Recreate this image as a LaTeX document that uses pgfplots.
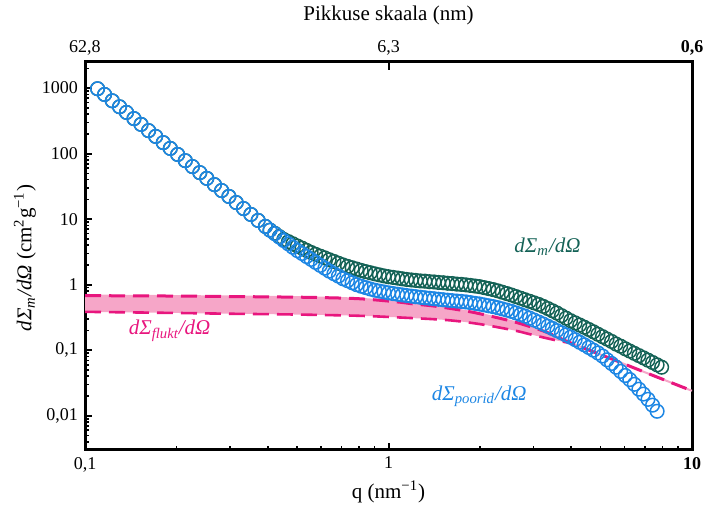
\documentclass[border=0pt]{standalone}
\usepackage{fontspec}
\setmainfont{Liberation Serif}
\usepackage{pgfplots}
\pgfplotsset{compat=1.18}
\usepgfplotslibrary{fillbetween}
\definecolor{cblue}{RGB}{28,134,228}
\definecolor{cgreen}{RGB}{20,98,86}
\definecolor{cpink}{RGB}{232,22,126}
\definecolor{cpinkfill}{RGB}{246,166,200}
\begin{document}
\begin{tikzpicture}
\begin{axis}[
 scale only axis, width=303.5pt, height=194pt,
 xmode=log, ymode=log,
 xmin=0.1, xmax=10, ymin=0.003, ymax=2500,
 axis line style={line width=1.5pt},
 tick align=inside,
 xtick pos=left, ytick pos=left,
 xtick={0.1,1,10}, xticklabels={{0,1},1,\textbf{10}},
 minor xtick={0.2,0.3,0.4,0.5,0.6,0.7,0.8,0.9,2,3,4,5,6,7,8,9},
 ytick={0.01,0.1,1,10,100,1000}, yticklabels={{0,01},{0,1},1,10,100,1000},
 minor ytick={0.003,0.004,0.005,0.006,0.007,0.008,0.009,0.02,0.03,0.04,0.05,0.06,0.07,0.08,0.09,0.2,0.3,0.4,0.5,0.6,0.7,0.8,0.9,2,3,4,5,6,7,8,9,20,30,40,50,60,70,80,90,200,300,400,500,600,700,800,900,2000},
 major tick length=3.5pt, minor tick length=2pt,
 every major tick/.style={line width=1pt, black},
 every minor tick/.style={line width=0.8pt, black},
 /pgf/number format/assume math mode=true,
 tick label style={font=\fontsize{9}{10}\selectfont},
 xlabel={q (nm\textsuperscript{−1})},
 xlabel style={at={(0.5,0)}, anchor=center, yshift=-21pt, font=\fontsize{10.5}{12}\selectfont},
 ylabel={{\itshape dΣ\textsubscript{m}/dΩ} (cm\textsuperscript{2}g\textsuperscript{−1})},
 ylabel style={at={(axis description cs:-0.099,0.495)}, anchor=center, font=\fontsize{10.5}{12}\selectfont},
 clip=true,
]
% fluctuation band
\addplot[name path=upshort, draw=none, smooth] coordinates {(0.1,0.68)(0.2,0.67)(0.35,0.655)(0.55,0.64)(0.8,0.61)(1.07,0.545)(1.2,0.51)(1.42,0.47)(1.75,0.405)(2.0,0.36)(2.6,0.27)(3.3,0.19)(4.0,0.128)};
\addplot[name path=lo, draw=none, smooth] coordinates {(0.1,0.385)(0.2,0.37)(0.3,0.36)(0.5,0.35)(0.8,0.335)(1.1,0.315)(1.56,0.288)(2.0,0.25)(2.6,0.20)(3.0,0.17)(3.6,0.14)(4.0,0.128)};
\addplot[cpinkfill] fill between[of=upshort and lo];
% m series
\addplot[only marks, mark=o, mark size=3.4pt, mark options={draw=cgreen, fill=white, line width=0.75pt}] coordinates {
(0.110,977)(0.116,798)(0.123,639)(0.130,518)(0.137,425)(0.145,342)(0.153,279)(0.162,224)(0.171,183)(0.181,147)(0.191,120)(0.202,97)(0.214,78)(0.226,63.4)(0.239,51.2)(0.252,41.9)(0.267,33.6)(0.282,27.3)(0.298,22.2)(0.315,17.9)(0.333,14.5)(0.352,11.8)(0.372,9.55)(0.393,7.74)
(0.407,6.81)(0.422,6.07)(0.437,5.41)(0.452,4.89)(0.468,4.53)(0.484,4.20)(0.501,3.89)(0.519,3.61)(0.537,3.34)(0.556,3.10)(0.575,2.90)(0.596,2.72)(0.617,2.56)(0.638,2.40)(0.661,2.26)(0.684,2.12)(0.708,2.00)(0.733,1.90)(0.759,1.81)(0.785,1.73)(0.813,1.65)(0.841,1.58)(0.871,1.52)(0.902,1.46)(0.933,1.41)(0.966,1.36)(1.000,1.32)(1.035,1.29)(1.072,1.26)(1.109,1.23)(1.148,1.20)(1.189,1.18)(1.230,1.16)(1.274,1.14)(1.318,1.13)(1.365,1.11)(1.413,1.10)(1.462,1.08)(1.514,1.07)(1.567,1.05)(1.622,1.04)(1.679,1.02)(1.738,1.01)(1.799,0.993)(1.862,0.973)(1.928,0.953)(1.995,0.933)(2.065,0.902)(2.138,0.871)(2.213,0.841)(2.291,0.805)(2.371,0.767)(2.455,0.731)(2.541,0.695)(2.630,0.658)(2.723,0.622)(2.818,0.589)(2.917,0.557)(3.020,0.527)(3.126,0.499)(3.236,0.466)(3.350,0.432)(3.467,0.400)(3.589,0.369)(3.715,0.337)(3.846,0.308)(3.981,0.282)(4.121,0.261)(4.266,0.242)(4.416,0.224)(4.571,0.207)(4.732,0.191)(4.898,0.175)(5.070,0.161)(5.248,0.148)(5.433,0.136)(5.623,0.124)(5.821,0.115)(6.026,0.105)(6.237,0.0971)(6.457,0.0895)(6.683,0.0827)(6.918,0.0764)(7.161,0.0705)(7.413,0.0649)(7.674,0.0597)(7.943,0.0550)};
% pore series
\addplot[only marks, mark=o, mark size=3.4pt, mark options={draw=cblue, fill=white, line width=0.75pt}] coordinates {
(0.110,977)(0.116,798)(0.123,639)(0.130,518)(0.137,425)(0.145,342)(0.153,279)(0.162,224)(0.171,183)(0.181,147)(0.191,120)(0.202,97)(0.214,78)(0.226,63.4)(0.239,51.2)(0.252,41.9)(0.267,33.6)(0.282,27.3)(0.298,22.2)(0.315,17.9)(0.333,14.5)(0.352,11.8)(0.372,9.55)(0.393,7.74)
(0.407,6.78)(0.422,6.00)(0.437,5.31)(0.452,4.71)(0.468,4.19)(0.484,3.72)(0.501,3.31)(0.519,2.99)(0.537,2.69)(0.556,2.43)(0.575,2.19)(0.596,1.97)(0.617,1.78)(0.638,1.61)(0.661,1.47)(0.684,1.35)(0.708,1.23)(0.733,1.15)(0.759,1.07)(0.785,1.00)(0.813,0.946)(0.841,0.902)(0.871,0.859)(0.902,0.823)(0.933,0.798)(0.966,0.774)(1.000,0.750)(1.035,0.732)(1.072,0.714)(1.109,0.698)(1.148,0.682)(1.189,0.668)(1.230,0.655)(1.274,0.642)(1.318,0.631)(1.365,0.620)(1.413,0.610)(1.462,0.599)(1.514,0.589)(1.567,0.579)(1.622,0.570)(1.679,0.562)(1.738,0.555)(1.799,0.545)(1.862,0.532)(1.928,0.519)(1.995,0.507)(2.065,0.491)(2.138,0.476)(2.213,0.462)(2.291,0.445)(2.371,0.427)(2.455,0.409)(2.541,0.391)(2.630,0.370)(2.723,0.350)(2.818,0.331)(2.917,0.309)(3.020,0.288)(3.126,0.269)(3.236,0.250)(3.350,0.232)(3.467,0.215)(3.589,0.199)(3.715,0.185)(3.846,0.171)(3.981,0.158)(4.121,0.145)(4.266,0.132)(4.416,0.121)(4.571,0.110)(4.732,0.100)(4.898,0.0908)(5.070,0.0815)(5.248,0.0714)(5.433,0.0627)(5.623,0.0550)(5.821,0.0475)(6.026,0.0411)(6.237,0.0356)(6.457,0.0302)(6.683,0.0254)(6.918,0.0214)(7.161,0.0178)(7.413,0.0145)(7.674,0.0117)};
% fluctuation lines
\addplot[cpinkfill, line width=1pt, smooth] coordinates {(0.1,0.68)(0.2,0.67)(0.35,0.655)(0.55,0.64)(0.8,0.61)(1.07,0.545)(1.2,0.51)(1.42,0.47)(1.75,0.405)(2.0,0.36)(2.6,0.27)(3.3,0.19)(4.0,0.128)(5.5,0.072)(7.0,0.046)(10,0.024)};
\addplot[cpink, line width=1.5pt, dash pattern=on 8pt off 4pt, smooth] coordinates {(0.1,0.68)(0.2,0.67)(0.35,0.655)(0.55,0.64)(0.8,0.61)(1.07,0.545)(1.2,0.51)(1.42,0.47)(1.75,0.405)(2.0,0.36)(2.6,0.27)(3.3,0.19)(4.0,0.128)(5.5,0.072)(7.0,0.046)(10,0.024)};
\addplot[cpink, line width=1.3pt, dash pattern=on 8pt off 4pt, smooth] coordinates {(0.1,0.385)(0.2,0.37)(0.3,0.36)(0.5,0.35)(0.8,0.335)(1.1,0.315)(1.56,0.288)(2.0,0.25)(2.6,0.20)(3.0,0.17)(3.6,0.14)(4.0,0.128)};
% annotations
\node[text=cgreen, font=\fontsize{10.5}{12}\selectfont\itshape] at (axis cs:3.34,3.83) {dΣ\textsubscript{m}/dΩ};
\node[text=cblue, font=\fontsize{10.5}{12}\selectfont\itshape] at (axis cs:1.99,0.0199) {dΣ\textsubscript{poorid}/dΩ};
\node[text=cpink, font=\fontsize{10.5}{12}\selectfont\itshape] at (axis cs:0.19,0.197) {dΣ\textsubscript{flukt}/dΩ};
\end{axis}
\begin{axis}[
 scale only axis, width=303.5pt, height=194pt,
 xmode=log, ymode=log,
 xmin=0.1, xmax=10, ymin=0.003, ymax=2500,
 axis x line*=top, axis y line=none,
 axis line style={line width=1.5pt},
 tick align=inside,
 xtick={0.1,1,10}, xticklabels={{62,8},{6,3},\textbf{0,6}},
 xminorticks=false,
 major tick length=4pt,
 every major tick/.style={line width=1pt, black},
 /pgf/number format/assume math mode=true,
 tick label style={font=\fontsize{9}{10}\selectfont},
 xlabel={Pikkuse skaala (nm)},
 xlabel style={at={(0.5,1)}, anchor=center, yshift=23.5pt, font=\fontsize{10.5}{12}\selectfont},
]
\addplot[draw=none] coordinates {(1,1)};
\end{axis}
\pgfresetboundingbox
\path[use as bounding box] (-42.5pt,-33.5pt) rectangle (310pt,225pt);
\end{tikzpicture}
\end{document}
